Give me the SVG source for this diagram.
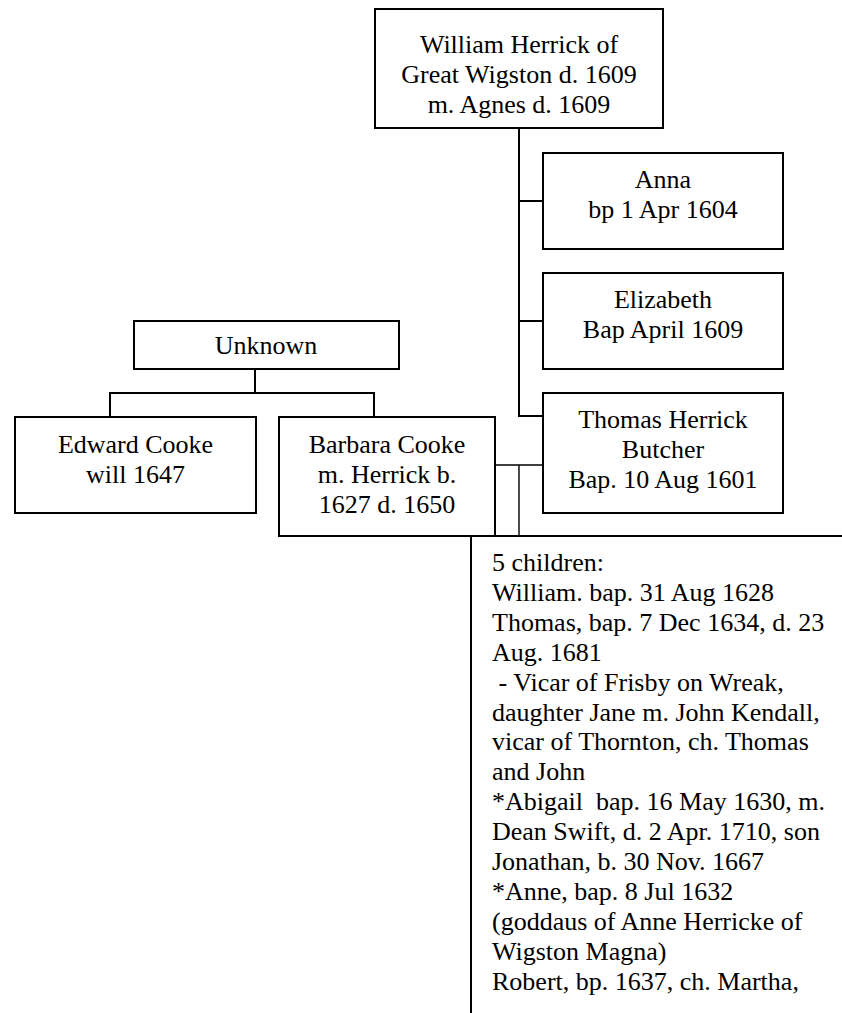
<svg xmlns="http://www.w3.org/2000/svg" width="842" height="1013" viewBox="0 0 842 1013">
<style>
.box{fill:#fff;stroke:#000;stroke-width:2}
.ln{fill:none;stroke:#000;stroke-width:2}
.thin{fill:none;stroke:#000;stroke-width:1.4}
text{font-family:"Liberation Serif","Times New Roman",serif;font-size:26px;fill:#000}
.c{text-anchor:middle}
.p{white-space:pre}
</style>
<rect width="842" height="1013" fill="#fff"/>
<g id="connectors">
<path class="ln" d="M519 128V416H543"/>
<path class="ln" d="M519 201H543M519 321H543"/>
<path class="ln" d="M255 369V393M110 417V393H374V417"/>
<path class="thin" d="M495 465H543M519 465V536"/>
<path class="ln" d="M495 536H842M471 536V1013"/>
</g>
<g id="william">
<rect class="box" x="375" y="9" width="288" height="119"/>
<text class="c" x="519" y="53">William Herrick of</text>
<text class="c" x="519" y="83">Great Wigston d. 1609</text>
<text class="c" x="519" y="113">m. Agnes d. 1609</text>
</g>
<g id="anna">
<rect class="box" x="543" y="153" width="240" height="96"/>
<text class="c" x="663" y="188">Anna</text>
<text class="c" x="663" y="218">bp 1 Apr 1604</text>
</g>
<g id="elizabeth">
<rect class="box" x="543" y="273" width="240" height="96"/>
<text class="c" x="663" y="308">Elizabeth</text>
<text class="c" x="663" y="338">Bap April 1609</text>
</g>
<g id="thomas">
<rect class="box" x="543" y="393" width="240" height="120"/>
<text class="c" x="663" y="428">Thomas Herrick</text>
<text class="c" x="663" y="458">Butcher</text>
<text class="c" x="663" y="488">Bap. 10 Aug 1601</text>
</g>
<g id="unknown">
<rect class="box" x="134" y="321" width="265" height="48"/>
<text class="c" x="266" y="354">Unknown</text>
</g>
<g id="edward">
<rect class="box" x="15" y="417" width="241" height="96"/>
<text class="c" x="135.5" y="453">Edward Cooke</text>
<text class="c" x="135.5" y="483">will 1647</text>
</g>
<g id="barbara">
<rect class="box" x="279" y="417" width="216" height="119"/>
<text class="c" x="387" y="453">Barbara Cooke</text>
<text class="c" x="387" y="483">m. Herrick b.</text>
<text class="c" x="387" y="513">1627 d. 1650</text>
</g>
<g id="children">
<text class="p" x="492" y="571">5 children:</text>
<text class="p" x="492" y="600.9">William. bap. 31 Aug 1628</text>
<text class="p" x="492" y="630.8">Thomas, bap. 7 Dec 1634, d. 23</text>
<text class="p" x="492" y="660.7">Aug. 1681</text>
<text class="p" x="492" y="690.6"> - Vicar of Frisby on Wreak,</text>
<text class="p" x="492" y="720.5">daughter Jane m. John Kendall,</text>
<text class="p" x="492" y="750.4">vicar of Thornton, ch. Thomas</text>
<text class="p" x="492" y="780.3">and John</text>
<text class="p" x="492" y="810.2">*Abigail  bap. 16 May 1630, m.</text>
<text class="p" x="492" y="840.1">Dean Swift, d. 2 Apr. 1710, son</text>
<text class="p" x="492" y="870">Jonathan, b. 30 Nov. 1667</text>
<text class="p" x="492" y="899.9">*Anne, bap. 8 Jul 1632</text>
<text class="p" x="492" y="929.8">(goddaus of Anne Herricke of</text>
<text class="p" x="492" y="959.7">Wigston Magna)</text>
<text class="p" x="492" y="989.6">Robert, bp. 1637, ch. Martha,</text>
</g>
</svg>
